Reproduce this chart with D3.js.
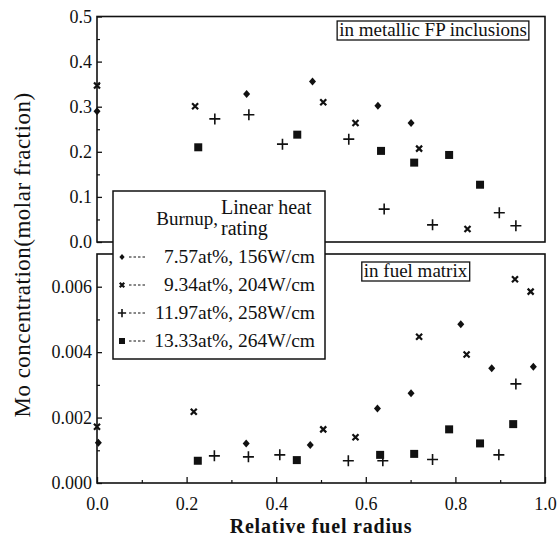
<!DOCTYPE html>
<html>
<head>
<meta charset="utf-8">
<script src="https://cdn.jsdelivr.net/npm/d3@7"></script>
<style>
  body { margin: 0; background: #fff; }
  text { font-family: "Liberation Serif", "Times New Roman", serif; fill: #111; }
</style>
</head>
<body>
<div id="chart"></div>
<script>
// series labels (burnup, linear heat rating)
var seriesNames = ['7.57at%, 156W/cm', '9.34at%, 204W/cm', '11.97at%, 258W/cm', '13.33at%, 264W/cm'];
var seriesShapes = ['diamond', 'times', 'plus', 'square'];

// top panel: in metallic FP inclusions (x = relative radius, y = molar fraction)
var fp757_x = [0.0, 0.334, 0.481, 0.627, 0.701];
var fp757_y = [0.29, 0.328, 0.356, 0.302, 0.264];
var fp934_x = [0.0, 0.219, 0.505, 0.577, 0.719, 0.827];
var fp934_y = [0.347, 0.301, 0.310, 0.264, 0.207, 0.029];
var fp1197_x = [0.263, 0.339, 0.414, 0.562, 0.641, 0.749, 0.898, 0.935];
var fp1197_y = [0.273, 0.282, 0.217, 0.228, 0.073, 0.038, 0.065, 0.036];
var fp1333_x = [0.226, 0.447, 0.634, 0.708, 0.786, 0.855];
var fp1333_y = [0.21, 0.238, 0.202, 0.176, 0.193, 0.127];

// bottom panel: in fuel matrix
var fm757_x = [0.003, 0.333, 0.476, 0.626, 0.701, 0.812, 0.881, 0.974];
var fm757_y = [0.00123, 0.00121, 0.00116, 0.00228, 0.00274, 0.00485, 0.00351, 0.00355];
var fm934_x = [0.0, 0.216, 0.505, 0.577, 0.719, 0.825, 0.933, 0.968];
var fm934_y = [0.00172, 0.00218, 0.00164, 0.0014, 0.00447, 0.00393, 0.00623, 0.00585];
var fm1197_x = [0.262, 0.338, 0.408, 0.561, 0.638, 0.749, 0.897, 0.935];
var fm1197_y = [0.00083, 0.0008, 0.00086, 0.00068, 0.00068, 0.00072, 0.00086, 0.00303];
var fm1333_x = [0.225, 0.446, 0.632, 0.708, 0.786, 0.855, 0.929];
var fm1333_y = [0.00068, 0.0007, 0.00086, 0.00089, 0.00164, 0.00121, 0.0018];

var xTicks = [0.0, 0.2, 0.4, 0.6, 0.8, 1.0];
var topTicks = [0.0, 0.1, 0.2, 0.3, 0.4, 0.5];
var botTicks = [0.000, 0.002, 0.004, 0.006];

var toPoints = function(xs, ys){
  var out = [];
  for (var i = 0; i < xs.length; i++){
    out.push({x: xs[i], y: ys[i]});
  }
  return out;
};
var topData = [toPoints(fp757_x, fp757_y), toPoints(fp934_x, fp934_y), toPoints(fp1197_x, fp1197_y), toPoints(fp1333_x, fp1333_y)];
var botData = [toPoints(fm757_x, fm757_y), toPoints(fm934_x, fm934_y), toPoints(fm1197_x, fm1197_y), toPoints(fm1333_x, fm1333_y)];

var W = 559, H = 536;
var left = 97, right = 545;
var ink = '#111';
var serif = '"Liberation Serif", "Times New Roman", serif';

var svg = d3.select('#chart').append('svg')
  .attr('width', W)
  .attr('height', H);

var x = d3.scaleLinear().domain([0, 1]).range([left, right]);
var yTop = d3.scaleLinear().domain([0, 0.5]).range([242, 16.5]);
var yBot = d3.scaleLinear().domain([0, 0.007]).range([483, 254]);

// marker paths, s = scale
var markerPath = function(shape, s){
  if (shape == 'diamond'){
    return 'M0,' + (-4*s) + 'L' + (3.5*s) + ',0L0,' + (4*s) + 'L' + (-3.5*s) + ',0Z';
  }
  if (shape == 'square'){
    return 'M' + (-4*s) + ',' + (-4*s) + 'h' + (8*s) + 'v' + (8*s) + 'h' + (-8*s) + 'Z';
  }
  if (shape == 'times'){
    var a = 3*s;
    return 'M' + (-a) + ',' + (-a) + 'L' + a + ',' + a + 'M' + a + ',' + (-a) + 'L' + (-a) + ',' + a;
  }
  var b = 5.5*s;
  return 'M' + (-b) + ',0H' + b + 'M0,' + (-b) + 'V' + b;
};
var styleMarker = function(sel, shape){
  if (shape == 'diamond' || shape == 'square'){
    sel.attr('fill', ink).attr('stroke', 'none');
  } else {
    sel.attr('fill', 'none').attr('stroke', ink)
      .attr('stroke-width', shape == 'times' ? 2.2 : 1.6);
  }
};

var drawPanel = function(y, ticks, minorTicks, fmt, data, showXTicks){
  var g = svg.append('g');
  var y0 = y.range()[0], y1 = y.range()[1];

  // left axis, ticks inward
  var yAxis = d3.axisLeft(y).tickValues(ticks).tickFormat(d3.format(fmt))
    .tickSizeInner(-5).tickSizeOuter(0).tickPadding(5);
  var ya = g.append('g').attr('transform', 'translate(' + left + ',0)').call(yAxis);
  ya.attr('font-family', serif);
  ya.select('.domain').remove();
  ya.selectAll('line').attr('stroke', ink).attr('stroke-width', 1.3);
  ya.selectAll('text').style('font-size', '18px').style('font-family', serif).attr('fill', ink);

  g.append('g').attr('transform', 'translate(' + left + ',0)')
    .call(d3.axisLeft(y).tickValues(minorTicks).tickFormat('').tickSizeInner(-3).tickSizeOuter(0))
    .call(function(a){ a.select('.domain').remove(); a.selectAll('line').attr('stroke', ink).attr('stroke-width', 1.2); });

  if (showXTicks){
    var xAxis = d3.axisBottom(x).tickValues(xTicks).tickFormat(d3.format('.1f'))
      .tickSizeInner(-6).tickSizeOuter(0).tickPadding(14);
    var xa = g.append('g').attr('transform', 'translate(0,' + y0 + ')').call(xAxis);
    xa.attr('font-family', serif);
    xa.select('.domain').remove();
    xa.selectAll('line').attr('stroke', ink).attr('stroke-width', 1.3);
    xa.selectAll('text').style('font-size', '18px').style('font-family', serif).attr('fill', ink);
    g.append('g').attr('transform', 'translate(0,' + y0 + ')')
      .call(d3.axisBottom(x).tickValues([0.1, 0.3, 0.5, 0.7, 0.9]).tickFormat('').tickSizeInner(-3).tickSizeOuter(0))
      .call(function(a){ a.select('.domain').remove(); a.selectAll('line').attr('stroke', ink).attr('stroke-width', 1.2); });
  }

  // frame
  g.append('rect')
    .attr('x', left).attr('y', y1)
    .attr('width', right - left).attr('height', y0 - y1)
    .attr('fill', 'none').attr('stroke', ink).attr('stroke-width', 1.6);

  for (var k = 0; k < data.length; k++){
    var shape = seriesShapes[k];
    g.selectAll('.pt' + k)
      .data(data[k])
      .enter()
      .append('path')
      .attr('class', 'pt' + k)
      .attr('d', markerPath(shape, 1))
      .attr('transform', function(d){ return 'translate(' + x(d.x) + ',' + y(d.y) + ')'; })
      .call(styleMarker, shape);
  }
  return g;
};

drawPanel(yTop, topTicks, [0.05, 0.15, 0.25, 0.35, 0.45], '.1f', topData, false);
drawPanel(yBot, botTicks, [0.001, 0.003, 0.005], '.3f', botData, true);

// panel labels in boxes
var boxLabel = function(txt, cx, baseY){
  var bg = svg.append('g');
  var t = bg.append('text')
    .attr('x', cx).attr('y', baseY)
    .attr('text-anchor', 'middle')
    .style('font-size', '19px')
    .text(txt);
  var bb = t.node().getBBox();
  bg.insert('rect', 'text')
    .attr('x', bb.x - 2).attr('y', bb.y + 2)
    .attr('width', bb.width + 4).attr('height', bb.height - 2)
    .attr('fill', '#fff').attr('stroke', ink).attr('stroke-width', 1.3);
};
boxLabel('in metallic FP inclusions', 433, 36);
boxLabel('in fuel matrix', 415.5, 277);

// legend
var lg = svg.append('g');
lg.append('rect')
  .attr('x', 113).attr('y', 191)
  .attr('width', 212).attr('height', 168)
  .attr('fill', '#fff').attr('stroke', ink).attr('stroke-width', 1.5);
lg.append('text').attr('x', 218).attr('y', 225).attr('text-anchor', 'end').style('font-size', '19px').text('Burnup,');
lg.append('text').attr('x', 221).attr('y', 214).style('font-size', '20px').text('Linear heat');
lg.append('text').attr('x', 221).attr('y', 235).style('font-size', '20px').text('rating');

var rowY = [257, 285, 313, 341];
for (var r = 0; r < seriesNames.length; r++){
  lg.append('path')
    .attr('d', markerPath(seriesShapes[r], 0.75))
    .attr('transform', 'translate(122,' + rowY[r] + ')')
    .call(styleMarker, seriesShapes[r]);
  lg.append('line')
    .attr('x1', 129).attr('x2', 147)
    .attr('y1', rowY[r]).attr('y2', rowY[r])
    .attr('stroke', ink).attr('stroke-width', 1)
    .attr('stroke-dasharray', '2.5,2');
  lg.append('text')
    .attr('x', 315).attr('y', rowY[r] + 6)
    .attr('text-anchor', 'end')
    .style('font-size', '19.5px')
    .text(seriesNames[r]);
}

// axis titles
svg.append('text')
  .attr('x', (left + right) / 2).attr('y', 533)
  .attr('text-anchor', 'middle')
  .style('font-size', '20px')
  .style('font-weight', 'bold')
  .style('letter-spacing', '0.8px')
  .text('Relative fuel radius');

svg.append('text')
  .attr('transform', 'translate(30,255) rotate(-90)')
  .attr('text-anchor', 'middle')
  .style('font-size', '23px')
  .style('letter-spacing', '0.5px')
  .text('Mo concentration(molar fraction)');
</script>
</body>
</html>
